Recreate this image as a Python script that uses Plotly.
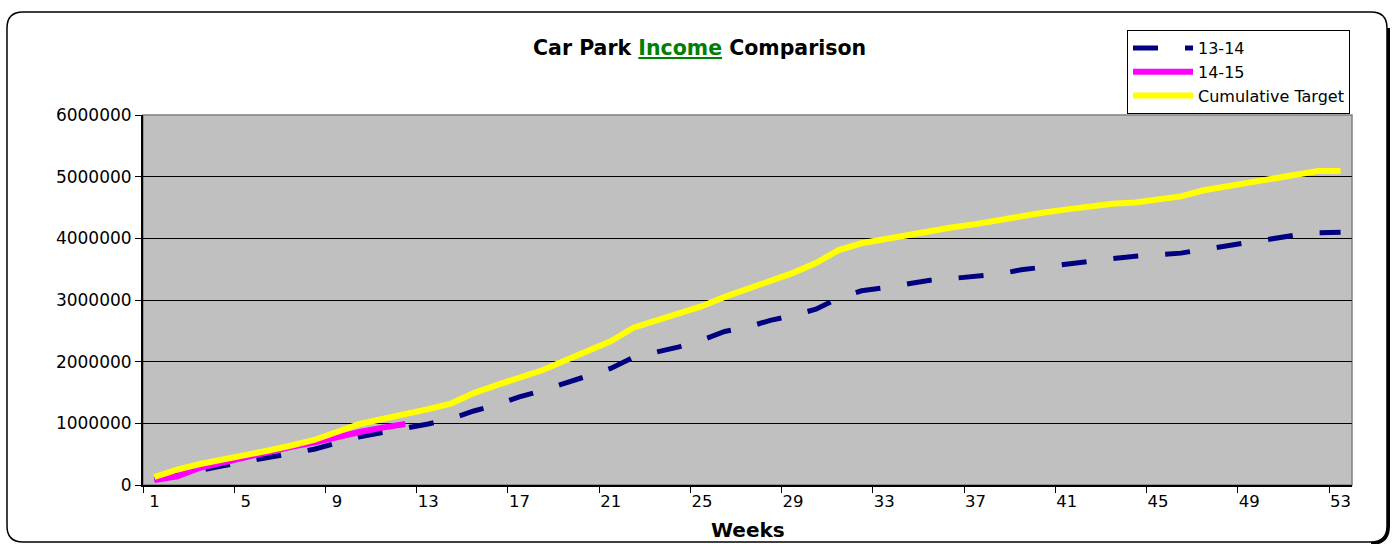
import plotly.graph_objects as go

weeks = list(range(1, 54))

income_13_14 = [
    90000, 170000, 240000, 310000, 380000, 450000, 520000, 580000, 680000, 780000,
    850000, 910000, 990000, 1070000, 1200000, 1300000, 1430000, 1530000, 1650000, 1770000,
    1890000, 2070000, 2150000, 2240000, 2350000, 2490000, 2560000, 2670000, 2750000, 2850000,
    3030000, 3150000, 3200000, 3270000, 3320000, 3350000, 3380000, 3420000, 3490000, 3540000,
    3580000, 3620000, 3670000, 3710000, 3730000, 3760000, 3820000, 3880000, 3940000, 4000000,
    4050000, 4090000, 4100000,
]

income_14_15 = [
    80000, 140000, 280000, 370000, 460000, 540000, 620000, 690000, 780000, 860000,
    930000, 990000,
]

cumulative_target = [
    130000, 250000, 340000, 410000, 470000, 560000, 640000, 730000, 860000, 990000,
    1070000, 1140000, 1230000, 1320000, 1490000, 1620000, 1740000, 1860000, 2020000, 2170000,
    2330000, 2550000, 2670000, 2770000, 2900000, 3050000, 3180000, 3300000, 3440000, 3600000,
    3810000, 3920000, 3990000, 4060000, 4130000, 4180000, 4230000, 4300000, 4370000, 4420000,
    4470000, 4520000, 4560000, 4580000, 4620000, 4680000, 4780000, 4840000, 4900000, 4960000,
    5040000, 5090000, 5090000,
]

x_tick_vals = list(range(1, 54, 4))
x_tick_text = [str(v) for v in x_tick_vals]
y_tick_vals = [0, 1000000, 2000000, 3000000, 4000000, 5000000, 6000000]
y_tick_text = [str(v) for v in y_tick_vals]

FONT = "DejaVu Sans, Verdana, sans-serif"

fig = go.Figure()
fig.add_trace(go.Scatter(
    x=weeks, y=income_13_14, mode="lines", name="13-14",
    line=dict(color="#000080", width=5, dash="25px,27px"),
))
fig.add_trace(go.Scatter(
    x=weeks[:len(income_14_15)], y=income_14_15, mode="lines", name="14-15",
    line=dict(color="#FF00FF", width=6),
))
fig.add_trace(go.Scatter(
    x=weeks, y=cumulative_target, mode="lines", name="Cumulative Target",
    line=dict(color="#FFFF00", width=6),
))

# plot area pixel geometry
L, R, T, B = 143, 1352, 115, 485
W, H = R - L, B - T


def px(xp):
    return (xp - L) / W


def py(yp):
    return (B - yp) / H


# rounded outer frame
x0, x1, y0, y1, r = 7, 1387, 12, 542, 16
frame = (
    f"M {px(x0 + r)},{py(y0)} L {px(x1 - r)},{py(y0)} "
    f"Q {px(x1)},{py(y0)} {px(x1)},{py(y0 + r)} "
    f"L {px(x1)},{py(y1 - r)} Q {px(x1)},{py(y1)} {px(x1 - r)},{py(y1)} "
    f"L {px(x0 + r)},{py(y1)} Q {px(x0)},{py(y1)} {px(x0)},{py(y1 - r)} "
    f"L {px(x0)},{py(y0 + r)} Q {px(x0)},{py(y0)} {px(x0 + r)},{py(y0)} Z"
)
shadow = (
    f"M {px(x1 + 1.5)},{py(y0 + r)} L {px(x1 + 1.5)},{py(y1 - r)} "
    f"Q {px(x1 + 1.5)},{py(y1 + 1.5)} {px(x1 - r)},{py(y1 + 1.5)}"
)

fig.update_layout(
    width=1396, height=544,
    margin=dict(l=L, r=1396 - R, t=T, b=544 - B),
    paper_bgcolor="white",
    plot_bgcolor="#C0C0C0",
    font=dict(family=FONT, size=16, color="black"),
    showlegend=True,
    legend=dict(
        x=px(1350), y=py(30), xanchor="right", yanchor="top",
        bgcolor="white", bordercolor="black", borderwidth=1,
        font=dict(family=FONT, size=16, color="black"),
        tracegroupgap=0, itemwidth=60,
    ),
    shapes=[
        dict(type="path", path=frame, xref="paper", yref="paper",
             line=dict(color="black", width=1.5), layer="below"),
        dict(type="path", path=shadow, xref="paper", yref="paper",
             line=dict(color="black", width=3), layer="below"),
        dict(type="rect", xref="paper", yref="paper", x0=0, x1=1, y0=0, y1=1,
             line=dict(color="#808080", width=1.5), layer="below"),
    ],
    annotations=[
        dict(text="Car Park <span style='color:#008000;text-decoration:underline'>Income</span> Comparison",
             x=px(699), y=py(48), xref="paper", yref="paper",
             xanchor="center", yanchor="middle", showarrow=False,
             font=dict(family=FONT, size=20.5, color="black", weight="bold")),
        dict(text="Weeks", x=px(748), y=py(530), xref="paper", yref="paper",
             xanchor="center", yanchor="middle", showarrow=False,
             font=dict(family=FONT, size=20, color="black", weight="bold")),
    ],
)

fig.update_xaxes(
    range=[0.5, 53.5], tickmode="array", tickvals=x_tick_vals, ticktext=x_tick_text,
    ticks="", showgrid=False, zeroline=False,
    showline=True, linecolor="black", linewidth=2,
    minor=dict(tick0=0.5, dtick=4, ticks="outside", ticklen=6, tickcolor="black",
               tickwidth=1, showgrid=False),
    tickfont=dict(family=FONT, size=16.5, color="black"),
)
fig.update_yaxes(
    range=[0, 6000000], tickmode="array", tickvals=y_tick_vals, ticktext=y_tick_text,
    ticks="outside", ticklen=6, tickcolor="black", tickwidth=1,
    showgrid=True, gridcolor="black", gridwidth=1, zeroline=False,
    showline=True, linecolor="black", linewidth=2,
    tickfont=dict(family=FONT, size=17, color="black"),
)

fig.write_html("out.html", config={"displayModeBar": False},
               post_script="document.body.style.margin='0';")
